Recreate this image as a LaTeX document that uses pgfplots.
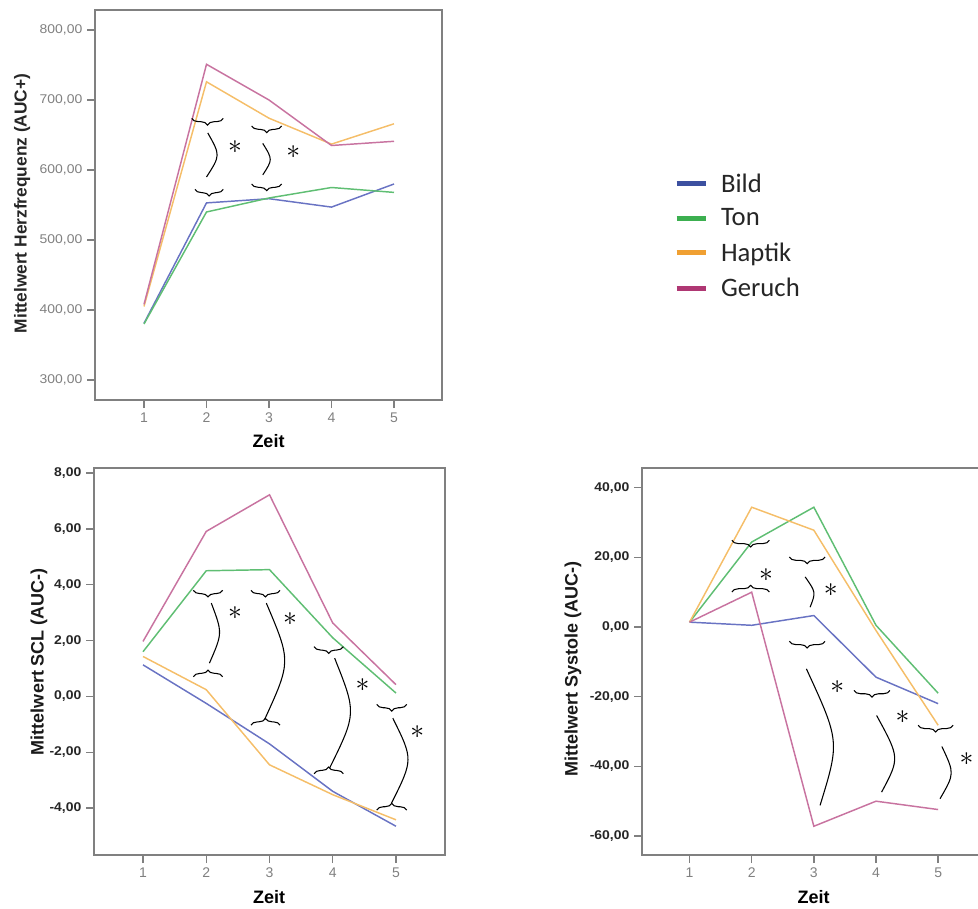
\documentclass[border=0pt]{standalone}
\usepackage{fontspec}
\setmainfont{Liberation Sans}
\newfontfamily\tickfont[FakeStretch=1.1]{Liberation Sans}
\newfontfamily\legfont{Carlito}
\usepackage{pgfplots}
\pgfplotsset{compat=1.18}
\usetikzlibrary{decorations.pathreplacing}

\definecolor{framecol}{RGB}{128,128,128}
\definecolor{cBild}{RGB}{105,115,195}
\definecolor{cTon}{RGB}{95,190,115}
\definecolor{cHaptik}{RGB}{245,190,105}
\definecolor{cGeruch}{RGB}{200,115,160}
\definecolor{lBild}{RGB}{60,80,160}
\definecolor{lTon}{RGB}{60,175,80}
\definecolor{lHaptik}{RGB}{240,160,50}
\definecolor{lGeruch}{RGB}{175,55,115}

\pgfplotstableread{
x Bild Ton Haptik Geruch
1 381 380 405 408
2 553 540 726 751
3 559 560 674 700
4 547 575 637 635
5 580 568 666 641
}\tabHR

\pgfplotstableread{
x Bild Ton Haptik Geruch
1 1.13 1.60 1.43 1.97
2 -0.25 4.50 0.24 5.91
3 -1.70 4.54 -2.45 7.22
4 -3.40 2.10 -3.52 2.63
5 -4.65 0.12 -4.42 0.42
}\tabSCL

\pgfplotstableread{
x Bild Ton Haptik Geruch
1 1.4 1.4 1.4 1.4
2 0.5 24.4 34.4 10.0
3 3.3 34.4 27.8 -57.2
4 -14.4 0.5 -1.0 -50.0
5 -22.0 -19.0 -28.2 -52.4
}\tabSYS

\tikzset{
  brd/.style={decorate, decoration={brace, amplitude=5pt}, line width=0.8pt, black},
  arcl/.style={line width=0.8pt, black},
  star/.style={inner sep=0pt, font=\huge}
}

\pgfplotsset{
  myaxis/.style={
    scale only axis,
    axis line style={framecol, line width=1.3pt},
    tick style={framecol, line width=1pt},
    major tick length=6pt,
    tick align=outside,
    tick pos=left,
    xtick={1,2,3,4,5},
    /pgf/number format/assume math mode=true,
    xticklabel style={font=\fontsize{10.5}{12}\selectfont, text=gray},
    yticklabel={\pgfmathprintnumber[fixed,fixed zerofill,precision=2,use comma,1000 sep={}]{\tick}},
    xlabel={Zeit},
    xlabel style={font=\bfseries\fontsize{13.5}{15}\selectfont, at={(axis description cs:0.5,-0.105)}, anchor=center},
    ylabel style={font=\bfseries\fontsize{13.5}{15}\selectfont, rotate=0, anchor=center},
    every axis plot/.append style={line width=1.1pt, no markers},
  }
}

\begin{document}
\begin{tikzpicture}
\path[use as bounding box] (0pt,0pt) rectangle (733.5pt,681pt);

% ---------- Top: Herzfrequenz ----------
\begin{axis}[myaxis,
  at={(71.25pt,381pt)}, anchor=south west,
  width=260.25pt, height=292.5pt,
  xmin=0.216, xmax=5.768, ymin=271.4, ymax=828.6,
  ytick={300,400,500,600,700,800},
  yticklabel style={font=\tickfont\fontsize{9.5}{11}\selectfont, text=gray},
  ylabel={Mittelwert Herzfrequenz (AUC+)},
  ylabel style={at={(axis description cs:-0.210,0.504)}, font=\bfseries\fontsize{13}{15}\selectfont, text=black!85},
  legend style={at={(axis description cs:1.668,0.588)}, anchor=north west,
    draw=none, fill=none, inner sep=0pt, row sep=7pt,
    font=\legfont\fontsize{20}{24}\selectfont, text=black!85,
    /tikz/every odd column/.append style={column sep=7.5pt}},
  legend cell align=left,
  legend image code/.code={\draw[#1] (0pt,0pt) -- (22pt,0pt);},
]
\addplot[cBild, forget plot] table[x=x,y=Bild] {\tabHR};
\addplot[cTon, forget plot] table[x=x,y=Ton] {\tabHR};
\addplot[cHaptik, forget plot] table[x=x,y=Haptik] {\tabHR};
\addplot[cGeruch, forget plot] table[x=x,y=Geruch] {\tabHR};
\addlegendimage{lBild, line width=3.75pt}
\addlegendentry{Bild}
\addlegendimage{lTon, line width=3.75pt}
\addlegendentry{Ton}
\addlegendimage{lHaptik, line width=3.75pt}
\addlegendentry{Haptik}
\addlegendimage{lGeruch, line width=3.75pt}
\addlegendentry{Geruch}
% annotations
\draw[brd] (axis cs:2.269,673.8) -- (axis cs:1.763,673.8);
\draw[brd] (axis cs:2.269,572.4) -- (axis cs:1.816,572.4);
\draw[arcl] (axis cs:2.02,653) .. controls (axis cs:2.223,621) .. (axis cs:2.0,590);
\node[star] at (axis cs:2.456,633) {$\ast$};
\draw[brd] (axis cs:3.203,662.9) -- (axis cs:2.723,662.9);
\draw[brd] (axis cs:3.203,580) -- (axis cs:2.723,580);
\draw[arcl] (axis cs:2.9,638) .. controls (axis cs:3.06,615) .. (axis cs:2.9,593);
\node[star] at (axis cs:3.389,626) {$\ast$};
\end{axis}

% ---------- Bottom left: SCL ----------
\begin{axis}[myaxis,
  at={(70.5pt,39.75pt)}, anchor=south west,
  width=263.25pt, height=290.25pt,
  xmin=0.225, xmax=5.775, ymin=-5.68, ymax=8.18,
  ytick={-4,-2,0,2,4,6,8},
  yticklabel style={font=\tickfont\bfseries\fontsize{9.5}{11}\selectfont, text=black!85},
  ylabel={Mittelwert SCL (AUC-)},
  ylabel style={at={(axis description cs:-0.157,0.5)}, text=black!90},
  xlabel style={at={(axis description cs:0.4986,-0.108)}},
]
\addplot[cBild] table[x=x,y=Bild] {\tabSCL};
\addplot[cTon] table[x=x,y=Ton] {\tabSCL};
\addplot[cHaptik] table[x=x,y=Haptik] {\tabSCL};
\addplot[cGeruch] table[x=x,y=Geruch] {\tabSCL};
% annotations
\draw[brd] (axis cs:2.26,3.80) -- (axis cs:1.795,3.80);
\draw[brd] (axis cs:1.795,0.705) -- (axis cs:2.26,0.705);
\draw[arcl] (axis cs:2.08,3.34) .. controls (axis cs:2.258,2.27) .. (axis cs:2.05,1.19);
\node[star] at (axis cs:2.455,2.97) {$\ast$};
\draw[brd] (axis cs:3.166,3.80) -- (axis cs:2.707,3.80);
\draw[brd] (axis cs:2.707,-1.03) -- (axis cs:3.166,-1.03);
\draw[arcl] (axis cs:2.95,3.34) .. controls (axis cs:3.342,1.25) .. (axis cs:2.92,-0.84);
\node[star] at (axis cs:3.324,2.76) {$\ast$};
\draw[brd] (axis cs:4.167,1.78) -- (axis cs:3.704,1.78);
\draw[brd] (axis cs:3.704,-2.77) -- (axis cs:4.167,-2.77);
\draw[arcl] (axis cs:4.03,1.37) .. controls (axis cs:4.377,-0.6) .. (axis cs:3.95,-2.57);
\node[star] at (axis cs:4.473,0.405) {$\ast$};
\draw[brd] (axis cs:5.17,-0.287) -- (axis cs:4.695,-0.287);
\draw[brd] (axis cs:4.695,-4.07) -- (axis cs:5.17,-4.07);
\draw[arcl] (axis cs:4.95,-0.78) .. controls (axis cs:5.273,-2.26) .. (axis cs:4.93,-3.82);
\node[star] at (axis cs:5.337,-1.28) {$\ast$};
\end{axis}

% ---------- Bottom right: Systole ----------
\begin{axis}[myaxis,
  at={(481.5pt,39.75pt)}, anchor=south west,
  width=258pt, height=290.25pt,
  xmin=0.235, xmax=5.77, ymin=-65.45, ymax=45.66,
  ytick={-60,-40,-20,0,20,40},
  yticklabel style={font=\tickfont\bfseries\fontsize{9.5}{11}\selectfont, text=black!85},
  ylabel={Mittelwert Systole (AUC-)},
  ylabel style={at={(axis description cs:-0.2006,0.48)}, text=black!90},
  xlabel style={at={(axis description cs:0.499,-0.108)}},
]
\addplot[cBild] table[x=x,y=Bild] {\tabSYS};
\addplot[cTon] table[x=x,y=Ton] {\tabSYS};
\addplot[cHaptik] table[x=x,y=Haptik] {\tabSYS};
\addplot[cGeruch] table[x=x,y=Geruch] {\tabSYS};
% annotations
\draw[brd] (axis cs:2.285,24.9) -- (axis cs:1.681,24.9);
\draw[brd] (axis cs:1.681,10.05) -- (axis cs:2.285,10.05);
\node[star] at (axis cs:2.232,14.84) {$\ast$};
\draw[brd] (axis cs:3.18,20.1) -- (axis cs:2.606,20.1);
\draw[arcl] (axis cs:2.86,14.4) .. controls (axis cs:3.033,9.98) .. (axis cs:2.94,5.7);
\node[star] at (axis cs:3.271,10.54) {$\ast$};
\draw[brd] (axis cs:3.18,-4.1) -- (axis cs:2.606,-4.1);
\draw[arcl] (axis cs:2.88,-12) .. controls (axis cs:3.417,-32.8) .. (axis cs:3.1,-51.2);
\node[star] at (axis cs:3.378,-17.2) {$\ast$};
\draw[brd] (axis cs:4.224,-18.2) -- (axis cs:3.646,-18.2);
\draw[arcl] (axis cs:4.01,-25.4) .. controls (axis cs:4.383,-37.6) .. (axis cs:4.09,-47.4);
\node[star] at (axis cs:4.428,-25.8) {$\ast$};
\draw[brd] (axis cs:5.241,-28.2) -- (axis cs:4.679,-28.2);
\draw[arcl] (axis cs:5.06,-34.3) .. controls (axis cs:5.265,-42.07) .. (axis cs:5.03,-49.3);
\node[star] at (axis cs:5.456,-37.8) {$\ast$};
\end{axis}
\end{tikzpicture}
\end{document}
